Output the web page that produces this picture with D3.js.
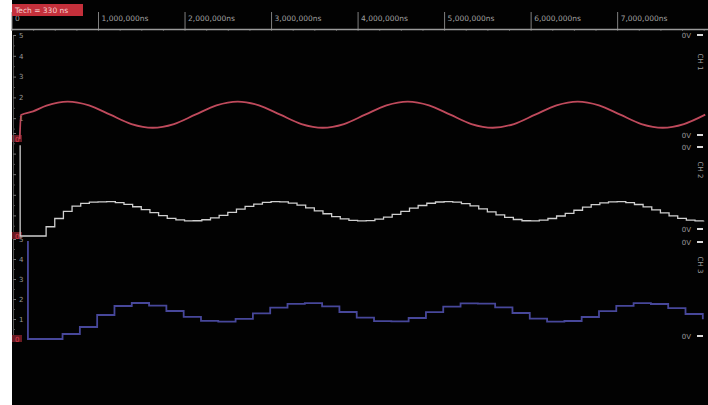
<!DOCTYPE html>
<html>
<head>
<meta charset="utf-8">
<script src="https://cdn.jsdelivr.net/npm/d3@7"></script>
<style>
  body { margin: 0; background: #fff; }
  svg { display: block; }
  text { font-family: "DejaVu Sans", sans-serif; }
</style>
</head>
<body>
<svg width="708" height="405"></svg>
<script>
// time values are in millions of ns
const timeTicks = [0, 1, 2, 3, 4, 5, 6, 7];
const timeLabels = ["0", "1,000,000ns", "2,000,000ns", "3,000,000ns", "4,000,000ns", "5,000,000ns", "6,000,000ns", "7,000,000ns"];
const badgeText = "Tech = 330 ns";
const voltTicks = [1, 2, 3, 4, 5];
const chanNames = ["CH 1", "CH 2", "CH 3"];

// channel 1: analog input (red)
const redT = [0.095, 0.11, 0.25, 0.404, 0.65, 0.896, 1.141, 1.387, 1.632, 1.878, 2.124, 2.369, 2.615, 2.860,
  3.106, 3.352, 3.597, 3.843, 4.088, 4.334, 4.580, 4.825, 5.071, 5.316, 5.562, 5.808, 6.053, 6.299,
  6.544, 6.790, 7.036, 7.281, 7.527, 7.772, 8.018];
const redV = [0, 1.15, 1.33, 1.60, 1.80, 1.62, 1.17, 0.72, 0.54, 0.72, 1.17, 1.62, 1.80, 1.62,
  1.17, 0.72, 0.54, 0.72, 1.17, 1.62, 1.80, 1.62, 1.17, 0.72, 0.54, 0.72, 1.17, 1.62,
  1.80, 1.62, 1.17, 0.72, 0.54, 0.72, 1.17];

// channel 2: fine sampled output (grey), one value every 0.1
const grayStart = 0.1, grayStep = 0.1, grayInit = 4.4;
const grayV = [0, 0, 0, 0.45, 0.85, 1.20, 1.45, 1.58, 1.64, 1.66,
  1.67, 1.62, 1.54, 1.42, 1.28, 1.13, 0.99, 0.86, 0.78, 0.73,
  0.74, 0.79, 0.88, 1.00, 1.15, 1.30, 1.44, 1.55, 1.63, 1.67,
  1.66, 1.60, 1.50, 1.37, 1.22, 1.08, 0.94, 0.83, 0.76, 0.73,
  0.75, 0.82, 0.92, 1.05, 1.20, 1.35, 1.48, 1.59, 1.65, 1.67,
  1.64, 1.57, 1.46, 1.32, 1.17, 1.03, 0.90, 0.80, 0.74, 0.73,
  0.77, 0.85, 0.97, 1.10, 1.25, 1.40, 1.52, 1.61, 1.66, 1.67,
  1.62, 1.53, 1.41, 1.27, 1.12, 0.98, 0.86, 0.77, 0.73, 0.74];

// channel 3: coarse sampled output (blue), one value every 0.2
const blueStart = 0.19, blueStep = 0.2, blueInit = 4.9;
const blueV = [0, 0, 0.25, 0.60, 1.20, 1.65, 1.80, 1.67, 1.40, 1.11,
  0.91, 0.87, 1.01, 1.28, 1.57, 1.76, 1.79, 1.63, 1.35, 1.07,
  0.89, 0.88, 1.05, 1.34, 1.62, 1.78, 1.77, 1.58, 1.30, 1.02,
  0.87, 0.90, 1.10, 1.39, 1.66, 1.79, 1.75, 1.54, 1.25, 0.99];

const svg = d3.select("svg");
svg.append("rect").attr("x", 12).attr("y", 0).attr("width", 696).attr("height", 405).attr("fill", "#020202");

const x = d3.scaleLinear().domain([0, 8.05]).range([11.5, 708]);

const chans = [
  { y: d3.scaleLinear().domain([0, 5]).range([139, 35]), col: "#bf4a5c", w: 1.8, labels: true, right: [35, 135], nameY: 62 },
  { y: d3.scaleLinear().domain([0, 5]).range([236, 133]), col: "#cfcfcf", w: 1.3, labels: false, right: [147, 229], nameY: 170 },
  { y: d3.scaleLinear().domain([0, 5]).range([339, 239]), col: "#47479a", w: 1.8, labels: true, right: [242, 336], nameY: 265 }
];

// top time axis
svg.append("g").attr("transform", "translate(0,29)")
  .call(d3.axisTop(x).tickValues(timeTicks).tickSize(17).tickFormat((d, i) => timeLabels[i]))
  .call(g => g.select(".domain").remove())
  .call(g => g.selectAll("line").attr("stroke", "#808080"))
  .call(g => g.selectAll("text").attr("fill", "#a0a0a0").attr("font-size", 7.5)
    .attr("text-anchor", "start").attr("x", 3).attr("y", -8).attr("dy", 0));
svg.append("g").attr("transform", "translate(0,29)")
  .call(d3.axisBottom(x).tickValues(d3.range(0, 8.05, 0.25)).tickSize(2).tickFormat(""))
  .call(g => g.select(".domain").remove())
  .call(g => g.selectAll("line").attr("stroke", "#555"));
svg.append("line").attr("x1", 12).attr("x2", 708).attr("y1", 29.5).attr("y2", 29.5)
  .attr("stroke", "#9a9a9a").attr("stroke-width", 1.5);

// badge
svg.append("rect").attr("x", 12).attr("y", 4).attr("width", 71).attr("height", 12).attr("fill", "#c4303b");
svg.append("text").attr("x", 15).attr("y", 13).attr("fill", "#f4d0d0").attr("font-size", 7.5).text(badgeText);

chans.forEach((c, ci) => {
  // left volt axis
  svg.append("g").attr("transform", "translate(13,0)")
    .call(d3.axisRight(c.y).tickValues(voltTicks).tickSize(3).tickFormat(c.labels ? d3.format("d") : ""))
    .call(g => g.select(".domain").attr("stroke", "#555"))
    .call(g => g.selectAll("line").attr("stroke", "#777"))
    .call(g => g.selectAll("text").attr("fill", "#9a9a9a").attr("font-size", 7).attr("x", 6));
  svg.append("g").attr("transform", "translate(13,0)")
    .call(d3.axisRight(c.y).tickValues(d3.range(0.5, 5, 1)).tickSize(2).tickFormat(""))
    .call(g => g.select(".domain").remove())
    .call(g => g.selectAll("line").attr("stroke", "#555"));
  svg.append("rect").attr("x", 12).attr("y", c.y(0) - 4).attr("width", 10).attr("height", 7)
    .attr("fill", "#6a1a22");
  svg.append("text").attr("x", 15).attr("y", c.y(0) + 2.5).attr("fill", "#e04050")
    .attr("font-size", 7).text("0");

  // right labels
  c.right.forEach(yy => {
    svg.append("text").attr("x", 691).attr("y", yy + 2.5).attr("text-anchor", "end")
      .attr("fill", "#989898").attr("font-size", 7).text("0V");
    svg.append("rect").attr("x", 697).attr("y", yy - 1).attr("width", 6).attr("height", 2).attr("fill", "#d8d8d8");
  });
  svg.append("text").attr("transform", `translate(698,${c.nameY}) rotate(90)`)
    .attr("text-anchor", "middle").attr("fill", "#a0a0a0").attr("font-size", 7).text(chanNames[ci]);
});

// traces
const line = (yS, curve) => d3.line().x(d => x(d[0])).y(d => yS(d[1])).curve(curve);

const redPts = redT.map((t, i) => [t, redV[i]]);
svg.append("path").datum(redPts)
  .attr("d", line(chans[0].y, d3.curveMonotoneX))
  .attr("fill", "none").attr("stroke", chans[0].col).attr("stroke-width", chans[0].w);

const grayPts = [[grayStart, grayInit]].concat(grayV.map((v, i) => [grayStart + i * grayStep, v]));
svg.append("path").datum(grayPts)
  .attr("d", line(chans[1].y, d3.curveStepAfter))
  .attr("fill", "none").attr("stroke", chans[1].col).attr("stroke-width", chans[1].w);

const bluePts = [[blueStart, blueInit]].concat(blueV.map((v, i) => [blueStart + i * blueStep, v]));
svg.append("path").datum(bluePts)
  .attr("d", line(chans[2].y, d3.curveStepAfter))
  .attr("fill", "none").attr("stroke", chans[2].col).attr("stroke-width", chans[2].w);
</script>
</body>
</html>
